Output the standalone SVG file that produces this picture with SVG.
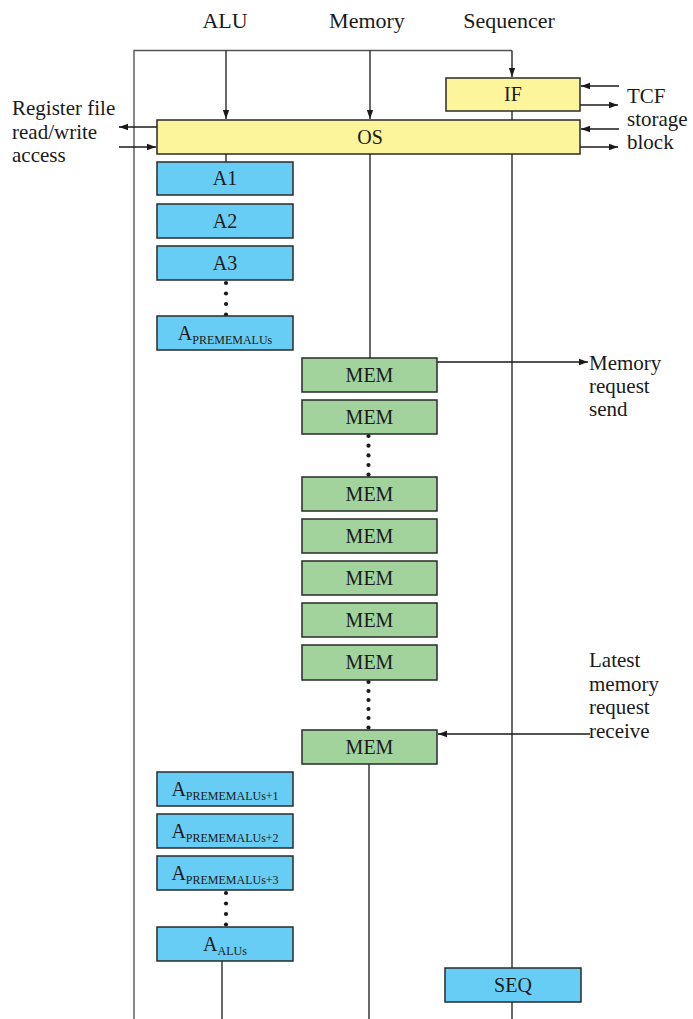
<svg xmlns="http://www.w3.org/2000/svg" width="693" height="1019" viewBox="0 0 693 1019">
<style>
.ln{stroke:#1a1a1a;stroke-width:1.3;fill:none}
.fr{stroke:#555;stroke-width:1.4;fill:none}
.box{stroke:#2a2a2a;stroke-width:1.5}
.yel{fill:#fdf59b}
.blu{fill:#68cdf5}
.grn{fill:#a3d39c}
text{font-family:"Liberation Serif",serif;fill:#1a1a1a}
.lbl{font-size:21px}
.hd{font-size:22px;text-anchor:middle}
.bl{font-size:20px;text-anchor:middle}
.sub{font-size:12px}
.dot{fill:#1a1a1a}
</style>
<defs>
<marker id="ah" viewBox="0 0 10 10" refX="10" refY="5" markerWidth="9" markerHeight="9" markerUnits="userSpaceOnUse" orient="auto">
<path d="M0,1.5 L10,5 L0,8.5 z" fill="#1a1a1a"/>
</marker>
</defs>
<g id="headers">
<text class="hd" x="225" y="28">ALU</text>
<text class="hd" x="367" y="28">Memory</text>
<text class="hd" x="509" y="28">Sequencer</text>
</g>
<g id="connectors">
<path class="fr" d="M134,1019 V50.5 H512"/>
<path class="ln" d="M512,50.5 V77" marker-end="url(#ah)"/>
<path class="ln" d="M226,50.5 V119" marker-end="url(#ah)"/>
<path class="ln" d="M370,50.5 V119" marker-end="url(#ah)"/>
<path class="ln" d="M512,111 V120"/>
<path class="ln" d="M226,154 V162"/>
<path class="ln" d="M370,154 V358"/>
<path class="ln" d="M512,154 V968"/>
<path class="ln" d="M512,1002 V1019"/>
<path class="ln" d="M369,764 V1019"/>
<path class="ln" d="M222,961 V1019"/>
<path class="ln" d="M437,362 H588" marker-end="url(#ah)"/>
<path class="ln" d="M590,734 H438" marker-end="url(#ah)"/>
<path class="ln" d="M157,127 H119" marker-end="url(#ah)"/>
<path class="ln" d="M119,147 H156" marker-end="url(#ah)"/>
<path class="ln" d="M619,86 H581" marker-end="url(#ah)"/>
<path class="ln" d="M580,105 H618" marker-end="url(#ah)"/>
<path class="ln" d="M619,129 H581" marker-end="url(#ah)"/>
<path class="ln" d="M580,147 H618" marker-end="url(#ah)"/>
<g id="dots">
<circle class="dot" cx="226" cy="283" r="2.1"/>
<circle class="dot" cx="226" cy="293.5" r="2.1"/>
<circle class="dot" cx="226" cy="304" r="2.1"/>
<circle class="dot" cx="226" cy="314.5" r="2.1"/>
<circle class="dot" cx="368.5" cy="436" r="2.1"/>
<circle class="dot" cx="368.5" cy="445.7" r="2.1"/>
<circle class="dot" cx="368.5" cy="455.4" r="2.1"/>
<circle class="dot" cx="368.5" cy="465" r="2.1"/>
<circle class="dot" cx="368.5" cy="474.7" r="2.1"/>
<circle class="dot" cx="368.5" cy="682" r="2.1"/>
<circle class="dot" cx="368.5" cy="691" r="2.1"/>
<circle class="dot" cx="368.5" cy="700" r="2.1"/>
<circle class="dot" cx="368.5" cy="709" r="2.1"/>
<circle class="dot" cx="368.5" cy="718" r="2.1"/>
<circle class="dot" cx="368.5" cy="727.5" r="2.1"/>
<circle class="dot" cx="226" cy="893" r="2.1"/>
<circle class="dot" cx="226" cy="903.5" r="2.1"/>
<circle class="dot" cx="226" cy="914" r="2.1"/>
<circle class="dot" cx="226" cy="924.5" r="2.1"/>
</g>
</g>
<g id="labels">
<text class="lbl" x="12" y="115">Register file</text>
<text class="lbl" x="12" y="139">read/write</text>
<text class="lbl" x="12" y="162">access</text>
<text class="lbl" x="627" y="103">TCF</text>
<text class="lbl" x="627" y="126">storage</text>
<text class="lbl" x="627" y="149">block</text>
<text class="lbl" x="589" y="370">Memory</text>
<text class="lbl" x="589" y="393">request</text>
<text class="lbl" x="589" y="416">send</text>
<text class="lbl" x="589" y="667">Latest</text>
<text class="lbl" x="589" y="691">memory</text>
<text class="lbl" x="589" y="714">request</text>
<text class="lbl" x="589" y="738">receive</text>
</g>
<g id="IF"><rect class="box yel" x="446" y="78" width="134" height="33"/><text class="bl" x="513" y="101">IF</text></g>
<g id="OS"><rect class="box yel" x="157" y="120" width="423" height="34"/><text class="bl" x="370" y="144">OS</text></g>
<g id="A1"><rect class="box blu" x="157" y="162" width="136" height="33"/><text class="bl" x="225" y="185">A1</text></g>
<g id="A2"><rect class="box blu" x="157" y="204" width="136" height="34"/><text class="bl" x="225" y="228">A2</text></g>
<g id="A3"><rect class="box blu" x="157" y="246" width="136" height="34"/><text class="bl" x="225" y="270">A3</text></g>
<g id="APREMEMALUs"><rect class="box blu" x="157" y="316" width="136" height="34"/><text class="bl" x="225" y="340">A<tspan class="sub" dy="4">PREMEMALUs</tspan></text></g>
<g id="MEM1"><rect class="box grn" x="302" y="358" width="135" height="34"/><text class="bl" x="369.5" y="382">MEM</text></g>
<g id="MEM2"><rect class="box grn" x="302" y="400" width="135" height="34"/><text class="bl" x="369.5" y="424">MEM</text></g>
<g id="MEM3"><rect class="box grn" x="302" y="477" width="135" height="34"/><text class="bl" x="369.5" y="501">MEM</text></g>
<g id="MEM4"><rect class="box grn" x="302" y="519" width="135" height="34"/><text class="bl" x="369.5" y="543">MEM</text></g>
<g id="MEM5"><rect class="box grn" x="302" y="561" width="135" height="34"/><text class="bl" x="369.5" y="585">MEM</text></g>
<g id="MEM6"><rect class="box grn" x="302" y="603" width="135" height="34"/><text class="bl" x="369.5" y="627">MEM</text></g>
<g id="MEM7"><rect class="box grn" x="302" y="645" width="135" height="35"/><text class="bl" x="369.5" y="669">MEM</text></g>
<g id="MEM8"><rect class="box grn" x="302" y="730" width="135" height="34"/><text class="bl" x="369.5" y="754">MEM</text></g>
<g id="APREMEMALUs1"><rect class="box blu" x="157" y="772" width="136" height="34"/><text class="bl" x="225" y="796">A<tspan class="sub" dy="4">PREMEMALUs+1</tspan></text></g>
<g id="APREMEMALUs2"><rect class="box blu" x="157" y="814" width="136" height="34"/><text class="bl" x="225" y="838">A<tspan class="sub" dy="4">PREMEMALUs+2</tspan></text></g>
<g id="APREMEMALUs3"><rect class="box blu" x="157" y="856" width="136" height="34"/><text class="bl" x="225" y="880">A<tspan class="sub" dy="4">PREMEMALUs+3</tspan></text></g>
<g id="AALUs"><rect class="box blu" x="157" y="927" width="136" height="34"/><text class="bl" x="225" y="951">A<tspan class="sub" dy="4">ALUs</tspan></text></g>
<g id="SEQ"><rect class="box blu" x="445" y="968" width="136" height="34"/><text class="bl" x="513" y="992">SEQ</text></g>
</svg>
